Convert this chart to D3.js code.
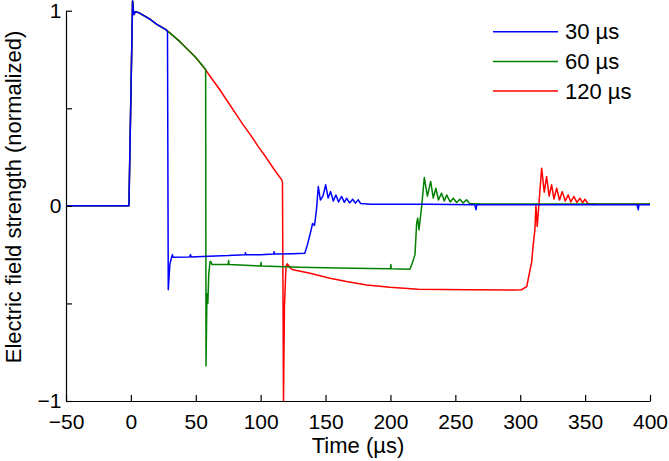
<!DOCTYPE html>
<html>
<head>
<meta charset="utf-8">
<script src="https://cdn.jsdelivr.net/npm/d3@7"></script>
<style>
  body { margin: 0; background: #fff; }
  svg { display: block; font-family: "Liberation Sans", Arial, Helvetica, sans-serif; }
</style>
</head>
<body>
<div id="chart"></div>
<script>
// pulse lengths shown in the legend
var seriesNames = ["30 \u00b5s", "60 \u00b5s", "120 \u00b5s"];
var seriesColors = ["#0000ff", "#008000", "#ff0000"];

var xTicks = [-50, 0, 50, 100, 150, 200, 250, 300, 350, 400];
var yTicks = [-1, -0.5, 0, 0.5, 1];

// shared leading edge + decay, [time us, normalized field]
var decayEarly = [[-50,0],[-1.5,0],[1.3,1.05],[2.2,0.98],[3.5,0.995],[6,0.99],[10,0.975],
  [15,0.955],[20,0.93],[24,0.915],[27.6,0.90]];
var decayMid = [[32,0.875],[38,0.84],[44,0.8],[50,0.76],[56.6,0.706]];
var decayLate = [[62,0.655],[68,0.6],[74,0.54],[80,0.48],[86,0.42],[92,0.365],[98,0.305],
  [104,0.25],[110,0.19],[116.2,0.133]];

// what each trace does after its pulse ends
var tail30 = [[28.2,0.89],[28.8,-0.43],[30,-0.3],[31.4,-0.263],[32,-0.25],[32.5,-0.263],[45,-0.262],
  [46,-0.25],[46.3,-0.262],[60,-0.258],[75,-0.255],[88,-0.25],[88.3,-0.24],[88.6,-0.25],[100,-0.25],
  [110,-0.247],[110.3,-0.235],[110.6,-0.247],[125,-0.245],[134,-0.243],[136,-0.2],[139,-0.12],
  [140,-0.09],[141.5,-0.1],[143,-0.02],[144.4,0.099],[146,0.03],[148,0.05],[150.1,0.108],[152,0.04],
  [153.9,0.073],[156,0.025],[158,0.056],[160,0.02],[162.4,0.048],[164.5,0.018],[166.2,0.039],
  [168.5,0.015],[170.9,0.034],[173,0.014],[175.2,0.031],[177,0.012],[185,0.008],[230,0.008],
  [265,0.006],[266,-0.02],[266.5,0.006],[330,0.005],[390,0.005],[391,-0.02],[391.5,0.005],[400,0.005]];

var tail60 = [[57.6,0.70],[57.9,-0.82],[58.6,-0.45],[59.3,-0.5],[60,-0.35],[61,-0.285],[62,-0.29],
  [62.5,-0.3],[75,-0.30],[75.3,-0.28],[75.6,-0.3],[100,-0.308],[100.3,-0.29],[100.6,-0.308],
  [130,-0.315],[170,-0.32],[200,-0.322],[200.3,-0.30],[200.6,-0.322],[215,-0.325],[217,-0.29],
  [218.9,-0.25],[220.2,-0.09],[221,-0.063],[222,-0.123],[224.1,0],[226.1,0.145],[228.5,0.05],
  [231,0.125],[233,0.04],[235,0.09],[237,0.03],[239.4,0.065],[241.5,0.025],[243.3,0.056],[246,0.02],
  [248.4,0.039],[251,0.017],[253.5,0.034],[256,0.015],[258.7,0.031],[261,0.012],[270,0.01],[400,0.01]];

var tail120 = [[116.8,0.12],[117.6,-1.0],[118.3,-0.52],[119.5,-0.31],[120.5,-0.297],[123,-0.32],
  [125,-0.328],[138,-0.345],[153.4,-0.371],[166.2,-0.388],[181.7,-0.405],[199.6,-0.417],
  [221.4,-0.427],[260,-0.43],[294.6,-0.431],[301,-0.43],[305,-0.414],[307.5,-0.33],[308.8,-0.29],
  [310,-0.2],[311.3,-0.123],[312.1,0],[313.1,-0.106],[316.5,0.193],[318.5,0.07],[320.3,0.15],
  [322.3,0.05],[324.2,0.108],[326,0.035],[328.1,0.09],[330.3,0.03],[332.4,0.073],[334.7,0.025],
  [337,0.056],[339,0.02],[341.4,0.048],[343.7,0.018],[346,0.039],[348,0.016],[349.9,0.034],
  [352,0.012],[360,0.008],[400,0.008]];

var traces = [
  decayEarly.concat(tail30),
  decayEarly.concat(decayMid, tail60),
  decayEarly.concat(decayMid, decayLate, tail120)
];

var width = 669, height = 461;
var fontSize = 22, tickFont = 21;

function minus(d){ return String(d).replace("-", "\u2212"); }

var svg = d3.select("#chart").append("svg")
    .attr("width", width)
    .attr("height", height);

var x = d3.scaleLinear().domain([-50, 400]).range([66, 650]);
var y = d3.scaleLinear().domain([-1, 1]).range([401, 10.7]);

var line = d3.line()
    .x(function(d){ return x(d[0]); })
    .y(function(d){ return y(d[1]); });

// red first, blue on top
for (var i = traces.length - 1; i >= 0; i--) {
    svg.append("path")
        .attr("d", line(traces[i]))
        .attr("fill", "none")
        .attr("stroke", seriesColors[i])
        .attr("stroke-width", 1.5)
        .attr("stroke-linejoin", "round");
}

var xAxis = svg.append("g")
    .attr("transform", "translate(0," + y(-1) + ")")
    .call(d3.axisBottom(x).tickValues(xTicks).tickSizeInner(-6).tickSizeOuter(0).tickFormat(minus));

var yAxis = svg.append("g")
    .attr("transform", "translate(" + x(-50) + ",0)")
    .call(d3.axisLeft(y).tickValues(yTicks).tickSizeInner(-6).tickSizeOuter(0)
        .tickFormat(function(d){ return d % 1 === 0 ? minus(d) : ""; }));

[xAxis, yAxis].forEach(function(a){
    a.select(".domain").attr("stroke", "#000").attr("stroke-width", 1.2);
    a.selectAll(".tick line").attr("stroke", "#000").attr("stroke-width", 1.2);
    a.selectAll("text").attr("fill", "#000")
        .style("font-size", tickFont + "px")
        .style("font-family", "'Liberation Sans', Arial, Helvetica, sans-serif");
});

xAxis.selectAll("text").attr("y", 28).attr("dy", 0);
yAxis.selectAll("text").attr("x", -4.5).attr("dy", "0.33em");

svg.append("text")
    .attr("x", 358)
    .attr("y", 453)
    .attr("text-anchor", "middle")
    .style("font-size", fontSize + "px")
    .text("Time (\u00b5s)");

svg.append("text")
    .attr("transform", "translate(20.5,197) rotate(-90)")
    .attr("text-anchor", "middle")
    .style("font-size", fontSize + "px")
    .text("Electric field strength (normalized)");

var legend = svg.selectAll(".legend")
    .data(seriesNames)
    .enter().append("g")
    .attr("class", "legend")
    .attr("transform", function(d, i){ return "translate(493," + (31.7 + i * 29.7) + ")"; });

legend.append("line")
    .attr("x1", 0).attr("x2", 65)
    .attr("stroke", function(d, i){ return seriesColors[i]; })
    .attr("stroke-width", 1.5);

legend.append("text")
    .attr("x", 72)
    .attr("dy", "0.35em")
    .style("font-size", fontSize + "px")
    .text(function(d){ return d; });
</script>
</body>
</html>
